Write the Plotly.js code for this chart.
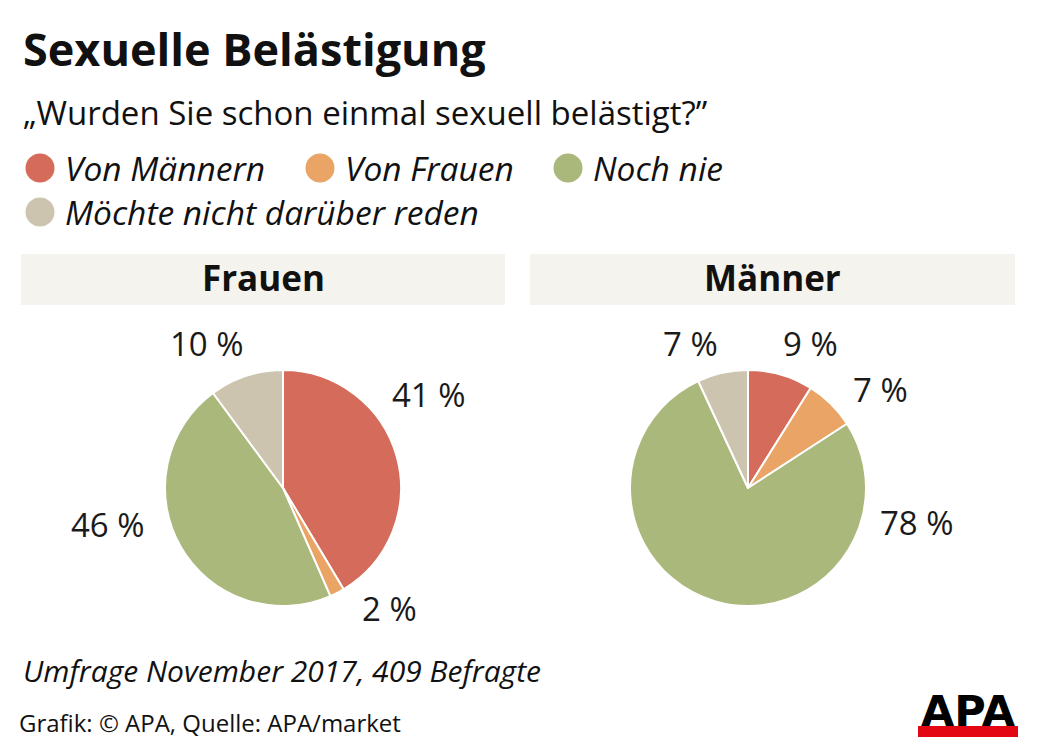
<!DOCTYPE html>
<html>
<head>
<meta charset="utf-8">
<script src="https://cdn.plot.ly/plotly-3.0.1.min.js"></script>
<style>
html,body{margin:0;padding:0;background:#fff;}
#chart{width:1040px;height:756px;}
</style>
</head>
<body>
<div id="chart"></div>
<script>
const categories = ['Von Männern', 'Von Frauen', 'Noch nie', 'Möchte nicht darüber reden'];
const sliceColors = ['#D56B5A', '#E9A466', '#ABB87C', '#CCC4AE'];
const frauenValues = [41, 2, 46, 10];
const maennerValues = [9, 7, 78, 7];
const panelTitles = ['Frauen', 'Männer'];
const titleText = 'Sexuelle Belästigung';
const subtitleText = '„Wurden Sie schon einmal sexuell belästigt?”';
const noteText = 'Umfrage November 2017, 409 Befragte';
const sourceText = 'Grafik: © APA, Quelle: APA/market';
const logoText = 'APA';

const W = 1040, H = 756;
const px = x => x / W;
const py = y => 1 - y / H;
const FONT = 'Open Sans, Noto Sans, sans-serif';

// layout: pie centres / radius and hand-placed value-label anchors (pixels)
const pieLayout = [
  {cx: 283, cy: 488, r: 118, labelPos: [[429, 395], [389, 608], [108, 524], [207, 343]]},
  {cx: 748, cy: 488, r: 118, labelPos: [[810, 343], [880, 389], [917, 522], [690, 343]]}
];
const seriesValues = [frauenValues, maennerValues];

const shapes = [];
const annotations = [];

const data = seriesValues.map((vals, k) => {
  const p = pieLayout[k];
  return {
    type: 'pie',
    name: panelTitles[k],
    labels: categories,
    values: vals,
    sort: false,
    direction: 'clockwise',
    rotation: 0,
    marker: {colors: sliceColors, line: {color: '#ffffff', width: 2}},
    textinfo: 'none',
    hoverinfo: 'label+value',
    showlegend: false,
    domain: {x: [px(p.cx - p.r), px(p.cx + p.r)], y: [py(p.cy + p.r), py(p.cy - p.r)]}
  };
});

// value labels
seriesValues.forEach((vals, k) => {
  vals.forEach((v, i) => {
    const [lx, ly] = pieLayout[k].labelPos[i];
    annotations.push({xref: 'paper', yref: 'paper', x: px(lx), y: py(ly), xanchor: 'center', yanchor: 'middle',
      text: v + ' %', showarrow: false, font: {family: FONT, size: 33, color: '#1a1a1a'}});
  });
});

// header boxes
const boxes = [[21, 505], [530, 1015]];
boxes.forEach((b, i) => {
  shapes.push({type: 'rect', xref: 'paper', yref: 'paper', x0: px(b[0]), x1: px(b[1]), y0: py(305), y1: py(254),
    fillcolor: '#F4F3EE', line: {width: 0}, layer: 'below'});
  annotations.push({xref: 'paper', yref: 'paper', x: px((b[0] + b[1]) / 2), y: py(278), xanchor: 'center', yanchor: 'middle',
    text: '<b>' + panelTitles[i] + '</b>', showarrow: false, font: {family: FONT, size: 35, color: '#111'}});
});

// title & subtitle
annotations.push({xref: 'paper', yref: 'paper', x: px(21), y: py(49), xanchor: 'left', yanchor: 'middle',
  text: '<b>' + titleText + '</b>', showarrow: false, font: {family: FONT, size: 45, color: '#111'}});
annotations.push({xref: 'paper', yref: 'paper', x: px(21), y: py(112), xanchor: 'left', yanchor: 'middle',
  text: subtitleText, showarrow: false, font: {family: FONT, size: 33, color: '#111'}});

// legend
const legendPos = [[40, 168], [320, 168], [568, 168], [40, 212]];
categories.forEach((c, i) => {
  const [lx, ly] = legendPos[i];
  const rr = 14.5;
  shapes.push({type: 'circle', xref: 'paper', yref: 'paper', x0: px(lx - rr), x1: px(lx + rr), y0: py(ly + rr), y1: py(ly - rr),
    fillcolor: sliceColors[i], line: {width: 0}});
  annotations.push({xref: 'paper', yref: 'paper', x: px(lx + 23), y: py(ly), xanchor: 'left', yanchor: 'middle',
    text: '<i>' + c + '</i>', showarrow: false, font: {family: FONT, size: 33.5, color: '#111'}});
});

// footer
annotations.push({xref: 'paper', yref: 'paper', x: px(21), y: py(670), xanchor: 'left', yanchor: 'middle',
  text: '<i>' + noteText + '</i>', showarrow: false, font: {family: FONT, size: 30, color: '#111'}});
annotations.push({xref: 'paper', yref: 'paper', x: px(17), y: py(722), xanchor: 'left', yanchor: 'middle',
  text: sourceText, showarrow: false, font: {family: FONT, size: 24, color: '#111'}});

// logo
shapes.push({type: 'rect', xref: 'paper', yref: 'paper', x0: px(918), x1: px(1018), y0: py(737), y1: py(726),
  fillcolor: '#E30613', line: {width: 0}});
annotations.push({xref: 'paper', yref: 'paper', x: px(968), y: py(711), xanchor: 'center', yanchor: 'middle',
  text: '<b>' + logoText + '</b>', showarrow: false, font: {family: 'DejaVu Sans, Liberation Sans, sans-serif', size: 43, color: '#000'}});

const layout = {
  width: W, height: H,
  margin: {l: 0, r: 0, t: 0, b: 0},
  paper_bgcolor: '#ffffff',
  showlegend: false,
  shapes: shapes,
  annotations: annotations
};

Plotly.newPlot('chart', data, layout, {displayModeBar: false, staticPlot: true});
</script>
</body>
</html>
